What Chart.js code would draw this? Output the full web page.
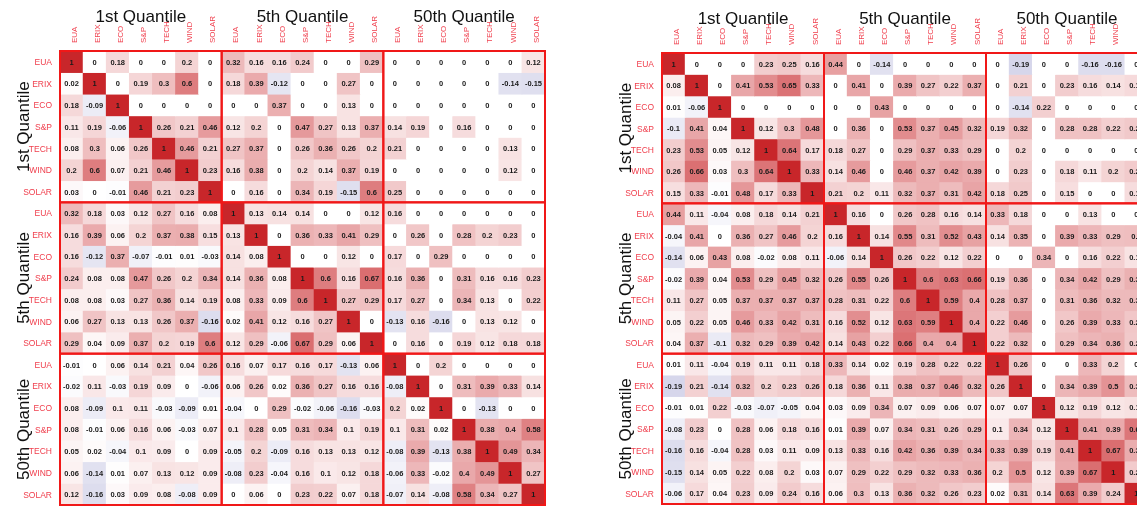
<!DOCTYPE html>
<html>
<head>
<meta charset="utf-8">
<script src="https://cdn.jsdelivr.net/npm/chart.js@4.4.1/dist/chart.umd.min.js"></script>
<style>
  html, body { margin: 0; padding: 0; background: #fff; width: 1137px; height: 507px; overflow: hidden; }
  .panel { position: absolute; top: 0; }
</style>
</head>
<body>
<div class="panel" style="left:0"><canvas id="left" width="560" height="507"></canvas></div>
<div class="panel" style="left:600px"><canvas id="right" width="563" height="507"></canvas></div>
<script>
// assets inside each quantile block
const assets = ['EUA', 'ERIX', 'ECO', 'S&P', 'TECH', 'WIND', 'SOLAR'];
const quantiles = ['1st Quantile', '5th Quantile', '50th Quantile'];

// left panel, one row per asset/quantile (21 x 21)
const leftCorr = [
  [1, 0, 0.18, 0, 0, 0.2, 0, 0.32, 0.16, 0.16, 0.24, 0, 0, 0.29, 0, 0, 0, 0, 0, 0, 0.12],
  [0.02, 1, 0, 0.19, 0.3, 0.6, 0, 0.18, 0.39, -0.12, 0, 0, 0.27, 0, 0, 0, 0, 0, 0, -0.14, -0.15],
  [0.18, -0.09, 1, 0, 0, 0, 0, 0, 0, 0.37, 0, 0, 0.13, 0, 0, 0, 0, 0, 0, 0, 0],
  [0.11, 0.19, -0.06, 1, 0.26, 0.21, 0.46, 0.12, 0.2, 0, 0.47, 0.27, 0.13, 0.37, 0.14, 0.19, 0, 0.16, 0, 0, 0],
  [0.08, 0.3, 0.06, 0.26, 1, 0.46, 0.21, 0.27, 0.37, 0, 0.26, 0.36, 0.26, 0.2, 0.21, 0, 0, 0, 0, 0.13, 0],
  [0.2, 0.6, 0.07, 0.21, 0.46, 1, 0.23, 0.16, 0.38, 0, 0.2, 0.14, 0.37, 0.19, 0, 0, 0, 0, 0, 0.12, 0],
  [0.03, 0, -0.01, 0.46, 0.21, 0.23, 1, 0, 0.16, 0, 0.34, 0.19, -0.15, 0.6, 0.25, 0, 0, 0, 0, 0, 0],
  [0.32, 0.18, 0.03, 0.12, 0.27, 0.16, 0.08, 1, 0.13, 0.14, 0.14, 0, 0, 0.12, 0.16, 0, 0, 0, 0, 0, 0],
  [0.16, 0.39, 0.06, 0.2, 0.37, 0.38, 0.15, 0.13, 1, 0, 0.36, 0.33, 0.41, 0.29, 0, 0.26, 0, 0.28, 0.2, 0.23, 0],
  [0.16, -0.12, 0.37, -0.07, -0.01, 0.01, -0.03, 0.14, 0.08, 1, 0, 0, 0.12, 0, 0.17, 0, 0.29, 0, 0, 0, 0],
  [0.24, 0.08, 0.08, 0.47, 0.26, 0.2, 0.34, 0.14, 0.36, 0.08, 1, 0.6, 0.16, 0.67, 0.16, 0.36, 0, 0.31, 0.16, 0.16, 0.23],
  [0.08, 0.08, 0.03, 0.27, 0.36, 0.14, 0.19, 0.08, 0.33, 0.09, 0.6, 1, 0.27, 0.29, 0.17, 0.27, 0, 0.34, 0.13, 0, 0.22],
  [0.06, 0.27, 0.13, 0.13, 0.26, 0.37, -0.16, 0.02, 0.41, 0.12, 0.16, 0.27, 1, 0, -0.13, 0.16, -0.16, 0, 0.13, 0.12, 0],
  [0.29, 0.04, 0.09, 0.37, 0.2, 0.19, 0.6, 0.12, 0.29, -0.06, 0.67, 0.29, 0.06, 1, 0, 0.16, 0, 0.19, 0.12, 0.18, 0.18],
  [-0.01, 0, 0.06, 0.14, 0.21, 0.04, 0.26, 0.16, 0.07, 0.17, 0.16, 0.17, -0.13, 0.06, 1, 0, 0.2, 0, 0, 0, 0],
  [-0.02, 0.11, -0.03, 0.19, 0.09, 0, -0.06, 0.06, 0.26, 0.02, 0.36, 0.27, 0.16, 0.16, -0.08, 1, 0, 0.31, 0.39, 0.33, 0.14],
  [0.08, -0.09, 0.1, 0.11, -0.03, -0.09, 0.01, -0.04, 0, 0.29, -0.02, -0.06, -0.16, -0.03, 0.2, 0.02, 1, 0, -0.13, 0, 0],
  [0.08, -0.01, 0.06, 0.16, 0.06, -0.03, 0.07, 0.1, 0.28, 0.05, 0.31, 0.34, 0.1, 0.19, 0.1, 0.31, 0.02, 1, 0.38, 0.4, 0.58],
  [0.05, 0.02, -0.04, 0.1, 0.09, 0, 0.09, -0.05, 0.2, -0.09, 0.16, 0.13, 0.13, 0.12, -0.08, 0.39, -0.13, 0.38, 1, 0.49, 0.34],
  [0.06, -0.14, 0.01, 0.07, 0.13, 0.12, 0.09, -0.08, 0.23, -0.04, 0.16, 0.1, 0.12, 0.18, -0.06, 0.33, -0.02, 0.4, 0.49, 1, 0.27],
  [0.12, -0.16, 0.03, 0.09, 0.08, -0.08, 0.09, 0, 0.06, 0, 0.23, 0.22, 0.07, 0.18, -0.07, 0.14, -0.08, 0.58, 0.34, 0.27, 1]
];

// right panel
const rightCorr = [
  [1, 0, 0, 0, 0.23, 0.25, 0.16, 0.44, 0, -0.14, 0, 0, 0, 0, 0, -0.19, 0, 0, -0.16, -0.16, 0],
  [0.08, 1, 0, 0.41, 0.53, 0.65, 0.33, 0, 0.41, 0, 0.39, 0.27, 0.22, 0.37, 0, 0.21, 0, 0.23, 0.16, 0.14, 0.17],
  [0.01, -0.06, 1, 0, 0, 0, 0, 0, 0, 0.43, 0, 0, 0, 0, 0, -0.14, 0.22, 0, 0, 0, 0],
  [-0.1, 0.41, 0.04, 1, 0.12, 0.3, 0.48, 0, 0.36, 0, 0.53, 0.37, 0.45, 0.32, 0.19, 0.32, 0, 0.28, 0.28, 0.22, 0.25],
  [0.23, 0.53, 0.05, 0.12, 1, 0.64, 0.17, 0.18, 0.27, 0, 0.29, 0.37, 0.33, 0.29, 0, 0.2, 0, 0, 0, 0, 0],
  [0.26, 0.66, 0.03, 0.3, 0.64, 1, 0.33, 0.14, 0.46, 0, 0.46, 0.37, 0.42, 0.39, 0, 0.23, 0, 0.18, 0.11, 0.2, 0.24],
  [0.15, 0.33, -0.01, 0.48, 0.17, 0.33, 1, 0.21, 0.2, 0.11, 0.32, 0.37, 0.31, 0.42, 0.18, 0.25, 0, 0.15, 0, 0, 0.16],
  [0.44, 0.11, -0.04, 0.08, 0.18, 0.14, 0.21, 1, 0.16, 0, 0.26, 0.28, 0.16, 0.14, 0.33, 0.18, 0, 0, 0.13, 0, 0],
  [-0.04, 0.41, 0, 0.36, 0.27, 0.46, 0.2, 0.16, 1, 0.14, 0.55, 0.31, 0.52, 0.43, 0.14, 0.35, 0, 0.39, 0.33, 0.29, 0.3],
  [-0.14, 0.06, 0.43, 0.08, -0.02, 0.08, 0.11, -0.06, 0.14, 1, 0.26, 0.22, 0.12, 0.22, 0, 0, 0.34, 0, 0.16, 0.22, 0.13],
  [-0.02, 0.39, 0.04, 0.53, 0.29, 0.45, 0.32, 0.26, 0.55, 0.26, 1, 0.6, 0.63, 0.66, 0.19, 0.36, 0, 0.34, 0.42, 0.29, 0.36],
  [0.11, 0.27, 0.05, 0.37, 0.37, 0.37, 0.37, 0.28, 0.31, 0.22, 0.6, 1, 0.59, 0.4, 0.28, 0.37, 0, 0.31, 0.36, 0.32, 0.32],
  [0.05, 0.22, 0.05, 0.46, 0.33, 0.42, 0.31, 0.16, 0.52, 0.12, 0.63, 0.59, 1, 0.4, 0.22, 0.46, 0, 0.26, 0.39, 0.33, 0.26],
  [0.04, 0.37, -0.1, 0.32, 0.29, 0.39, 0.42, 0.14, 0.43, 0.22, 0.66, 0.4, 0.4, 1, 0.22, 0.32, 0, 0.29, 0.34, 0.36, 0.25],
  [0.01, 0.11, -0.04, 0.19, 0.11, 0.11, 0.18, 0.33, 0.14, 0.02, 0.19, 0.28, 0.22, 0.22, 1, 0.26, 0, 0, 0.33, 0.2, 0],
  [-0.19, 0.21, -0.14, 0.32, 0.2, 0.23, 0.26, 0.18, 0.36, 0.11, 0.38, 0.37, 0.46, 0.32, 0.26, 1, 0, 0.34, 0.39, 0.5, 0.31],
  [-0.01, 0.01, 0.22, -0.03, -0.07, -0.05, 0.04, 0.03, 0.09, 0.34, 0.07, 0.09, 0.06, 0.07, 0.07, 0.07, 1, 0.12, 0.19, 0.12, 0.14],
  [-0.08, 0.23, 0, 0.28, 0.06, 0.18, 0.16, 0.01, 0.39, 0.07, 0.34, 0.31, 0.26, 0.29, 0.1, 0.34, 0.12, 1, 0.41, 0.39, 0.63],
  [-0.16, 0.16, -0.04, 0.28, 0.03, 0.11, 0.09, 0.13, 0.33, 0.16, 0.42, 0.36, 0.39, 0.34, 0.33, 0.39, 0.19, 0.41, 1, 0.67, 0.38],
  [-0.15, 0.14, 0.05, 0.22, 0.08, 0.2, 0.03, 0.07, 0.29, 0.22, 0.29, 0.32, 0.33, 0.36, 0.2, 0.5, 0.12, 0.39, 0.67, 1, 0.24],
  [-0.06, 0.17, 0.04, 0.23, 0.09, 0.24, 0.16, 0.06, 0.3, 0.13, 0.36, 0.32, 0.26, 0.23, 0.02, 0.31, 0.14, 0.63, 0.39, 0.24, 1]
];

const cellLabels = quantiles.flatMap(() => assets);
const FONT = '"Liberation Sans", Arial, sans-serif';
const LABEL_RED = '#f0404e';

function cellColor(v) {
  const t = Math.abs(v);
  const end = v >= 0 ? [200, 38, 42] : [40, 40, 150];
  const c = end.map(e => Math.round(255 - t * (255 - e)));
  return `rgb(${c[0]},${c[1]},${c[2]})`;
}

// text, block frames and axis labels on top of the bars
const corrText = {
  id: 'corrText',
  afterDatasetsDraw(chart) {
    const { ctx, scales: { x, y } } = chart;
    ctx.save();
    ctx.font = 'bold 7.5px ' + FONT;
    ctx.fillStyle = '#1a1a1a';
    ctx.textAlign = 'center';
    ctx.textBaseline = 'middle';
    chart.data.datasets.forEach((ds, i) => {
      chart.getDatasetMeta(i).data.forEach((bar, j) => {
        const p = bar.getProps(['x', 'y', 'base'], true);
        ctx.fillText(String(ds.values[j]), p.x, (p.y + p.base) / 2 + 1);
      });
    });
    // red frame round every quantile block
    ctx.strokeStyle = '#f01818';
    ctx.lineWidth = 2;
    for (let bi = 0; bi < 3; bi++) {
      for (let bj = 0; bj < 3; bj++) {
        const x0 = x.getPixelForValue(bj * 7 - 0.5);
        const x1 = x.getPixelForValue(bj * 7 + 6.5);
        const y0 = y.getPixelForValue(bi * 7);
        const y1 = y.getPixelForValue(bi * 7 + 7);
        ctx.strokeRect(x0, y0, x1 - x0, y1 - y0);
      }
    }
    ctx.restore();
  },
  afterDraw(chart) {
    const { ctx, chartArea, scales: { x, y } } = chart;
    ctx.save();
    ctx.fillStyle = LABEL_RED;
    // column labels
    ctx.font = '8px ' + FONT;
    ctx.textAlign = 'left';
    ctx.textBaseline = 'middle';
    cellLabels.forEach((lab, i) => {
      ctx.save();
      ctx.translate(x.getPixelForValue(i) + 3, chartArea.top - 8);
      ctx.rotate(-Math.PI / 2);
      ctx.fillText(lab, 0, 0);
      ctx.restore();
    });
    // row labels
    ctx.font = '8.5px ' + FONT;
    ctx.textAlign = 'right';
    cellLabels.forEach((lab, i) => {
      ctx.fillText(lab, chartArea.left - 8, y.getPixelForValue(i + 0.5) + 1);
    });
    // quantile titles
    ctx.fillStyle = '#111';
    ctx.font = '17px ' + FONT;
    ctx.textAlign = 'center';
    ctx.textBaseline = 'alphabetic';
    quantiles.forEach((q, b) => {
      ctx.fillText(q, x.getPixelForValue(b * 7 + 3), chartArea.top - 29);
      ctx.save();
      ctx.translate(chartArea.left - 31, y.getPixelForValue(b * 7 + 3.5));
      ctx.rotate(-Math.PI / 2);
      ctx.fillText(q, 0, 0);
      ctx.restore();
    });
    ctx.restore();
  }
};

function makeHeatmap(id, matrix, pad) {
  const datasets = matrix.map((row, r) => ({
    data: row.map(() => [r, r + 1]),
    values: row,
    backgroundColor: row.map(cellColor),
    borderWidth: 0,
    grouped: false,
    barPercentage: 1,
    categoryPercentage: 1
  }));
  return new Chart(document.getElementById(id), {
    type: 'bar',
    data: { labels: cellLabels, datasets },
    options: {
      responsive: false,
      animation: false,
      events: [],
      layout: { padding: pad },
      plugins: { legend: { display: false }, tooltip: { enabled: false } },
      scales: {
        x: { type: 'category', display: false },
        y: { type: 'linear', min: 0, max: 21, reverse: true, display: false }
      }
    },
    plugins: [corrText]
  });
}

makeHeatmap('left', leftCorr, { left: 60, top: 51, right: 15, bottom: 2 });
makeHeatmap('right', rightCorr, { left: 62, top: 53, right: 15, bottom: 3 });
</script>
</body>
</html>
